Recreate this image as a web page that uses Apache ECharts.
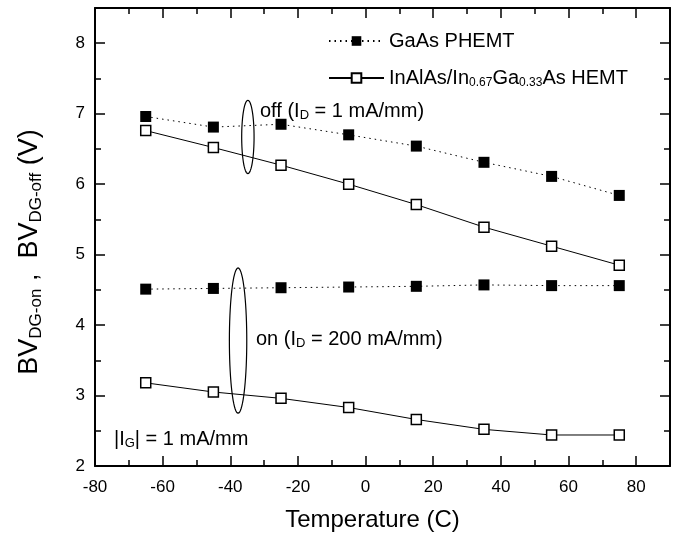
<!DOCTYPE html>
<html>
<head>
<meta charset="utf-8">
<script src="https://cdn.jsdelivr.net/npm/echarts@6/dist/echarts.min.js"></script>
<style>
html,body{margin:0;padding:0;background:#fff}
#chart1{width:679px;height:542px}
</style>
</head>
<body>
<div id="chart1"></div>
<script>
var temps=[-65,-45,-25,-5,15,35,55,75];
var gaasOff=[6.96,6.81,6.85,6.70,6.54,6.31,6.11,5.84];
var hemtOff=[6.76,6.52,6.27,6.00,5.71,5.39,5.12,4.85];
var gaasOn=[4.51,4.52,4.53,4.54,4.55,4.57,4.56,4.56];
var hemtOn=[3.18,3.05,2.96,2.83,2.66,2.52,2.44,2.44];
var xRange=[-80,90];
var yRange=[2,8.5];
var seriesNames=['GaAs PHEMT','InAlAs/In0.67Ga0.33As HEMT'];

var FONT='"Liberation Sans", Arial, sans-serif';

function pts(ys){
	return temps.map(function(t,i){return [t,ys[i]];});
}

function axisX(pos,interval,len,labels){
	return {
		type:'value',position:pos,min:xRange[0],max:xRange[1],interval:interval,
		axisLine:{show:len>8,onZero:false,lineStyle:{color:'#000',width:2}},
		axisTick:{show:true,inside:true,length:len,lineStyle:{color:'#000',width:1.5}},
		axisLabel:{show:labels,showMaxLabel:false,margin:13,color:'#000',fontSize:17,fontFamily:FONT},
		splitLine:{show:false}
	};
}
function axisY(pos,interval,len,labels){
	return {
		type:'value',position:pos,min:yRange[0],max:yRange[1],interval:interval,
		axisLine:{show:len>8,onZero:false,lineStyle:{color:'#000',width:2}},
		axisTick:{show:true,inside:true,length:len,lineStyle:{color:'#000',width:1.5}},
		axisLabel:{show:labels,showMaxLabel:false,margin:10,color:'#000',fontSize:17,fontFamily:FONT},
		splitLine:{show:false}
	};
}

chart1();

function chart1(){
	var myChart=echarts.init(document.getElementById('chart1'));
	var sub={fontSize:12,fontFamily:FONT,lineHeight:6,verticalAlign:'bottom',color:'#000'};
	var subA={fontSize:13,fontFamily:FONT,lineHeight:8,verticalAlign:'bottom',fill:'#000'};
	// ellipses around the off / on groups: [x, y, rx, ry] in data units
	var rings=[[-34.8,6.67,1.83,0.52],[-37.7,3.78,2.57,1.03]];

	var xs=[axisX('bottom',20,10,true),axisX('bottom',10,6,false),axisX('top',20,10,false),axisX('top',10,6,false)];
	xs[0].name='Temperature (C)';
	xs[0].nameLocation='middle';
	xs[0].nameGap=42;
	xs[0].nameTextStyle={fontSize:24,fontFamily:FONT,color:'#000',padding:[0,20,0,0]};
	var ys=[axisY('left',1,10,true),axisY('left',0.5,6,false),axisY('right',1,10,false),axisY('right',0.5,6,false)];
	ys[0].name='BV{s|DG-on} ,  BV{s|DG-off} (V)';
	ys[0].nameLocation='middle';
	ys[0].nameGap=50;
	ys[0].nameTextStyle={fontSize:27,fontFamily:FONT,color:'#000',lineHeight:30,padding:[0,30,0,0],
		rich:{s:{fontSize:17,fontFamily:FONT,lineHeight:10,verticalAlign:'bottom',color:'#000'}}};

	var filled={symbol:'rect',symbolSize:11,itemStyle:{color:'#000'},lineStyle:{color:'#000',width:1,type:[1.5,4]}};
	var open={symbol:'rect',symbolSize:10,itemStyle:{color:'#fff',borderColor:'#000',borderWidth:1.5},lineStyle:{color:'#000',width:1}};

	var option={
		animation:false,
		grid:{left:95,right:9,top:8,bottom:76},
		xAxis:xs,
		yAxis:ys,
		legend:{
			orient:'vertical',left:328,top:30,padding:0,itemGap:15,itemWidth:55,itemHeight:12,
			data:seriesNames,
			formatter:function(n){
				return n===seriesNames[0]?n:'InAlAs/In{s|0.67}Ga{s|0.33}As HEMT';
			},
			textStyle:{fontSize:20,fontFamily:FONT,color:'#000',lineHeight:22,rich:{s:sub}}
		},
		graphic:[
			{type:'text',left:260,top:100,style:{text:'off (I{s|D} = 1 mA/mm)',fontSize:20,fontFamily:FONT,lineHeight:22,fill:'#000',rich:{s:subA}}},
			{type:'text',left:256,top:328,style:{text:'on (I{s|D} = 200 mA/mm)',fontSize:20,fontFamily:FONT,lineHeight:22,fill:'#000',rich:{s:subA}}},
			{type:'text',left:114,top:428,style:{text:'|I{s|G}| = 1 mA/mm',fontSize:20,fontFamily:FONT,lineHeight:22,fill:'#000',rich:{s:subA}}}
		]
	};
	option.series=[
		Object.assign({name:seriesNames[0],type:'line',data:pts(gaasOff),z:3},filled),
		Object.assign({name:seriesNames[0],type:'line',data:pts(gaasOn),z:3},filled),
		Object.assign({name:seriesNames[1],type:'line',data:pts(hemtOff),z:3},open),
		Object.assign({name:seriesNames[1],type:'line',data:pts(hemtOn),z:3},open),
		{
			type:'custom',silent:true,z:4,data:rings,
			renderItem:function(params,api){
				var c=api.coord([api.value(0),api.value(1)]);
				var s=api.size([api.value(2),api.value(3)]);
				var p=[];
				for(var k=0;k<72;k++){
					var a=k/72*Math.PI*2;
					p.push([c[0]+s[0]*Math.cos(a),c[1]+s[1]*Math.sin(a)]);
				}
				return {type:'polygon',shape:{points:p},style:{fill:'none',stroke:'#000',lineWidth:1.2}};
			}
		}
	];
	myChart.setOption(option);
	window.addEventListener("resize",function(){
		myChart.resize();
	});
}
</script>
</body>
</html>
